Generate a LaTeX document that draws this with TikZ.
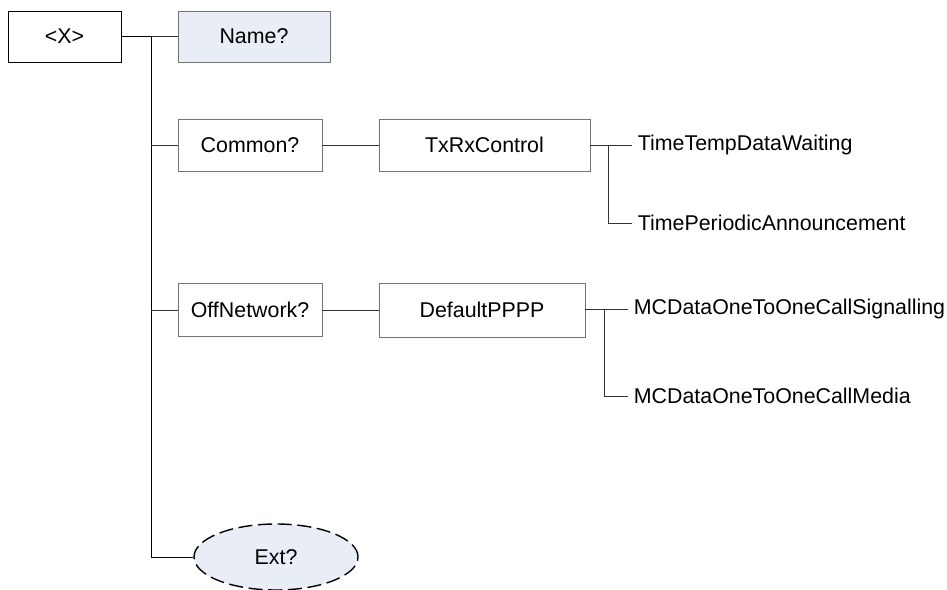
\documentclass[tikz,border=0pt]{standalone}
\usepackage{fontspec}
\setmainfont{Liberation Sans}
\usetikzlibrary{shapes.geometric}
\definecolor{optfill}{HTML}{E9EDF5}
\tikzset{every node/.style={font=\fontsize{15.2}{18}\selectfont},
 box/.style={draw=black!55,minimum height=1.3cm,inner sep=0pt},
 rootbox/.style={draw=black,minimum height=1.28cm,minimum width=2.83cm},
 leaf/.style={anchor=west,inner xsep=0.14cm,inner ysep=0pt},
 opt/.style={fill=optfill},
 link/.style={draw=black!80},
 }

\begin{document}
\begin{tikzpicture}[x=0.025cm,y=-0.025cm]
        \useasboundingbox (0,0) rectangle (947,590);
        \node[rootbox] (x) at (64.5,36.5) {<X>};
        \node[box,opt,minimum width=3.8cm,minimum height=1.28cm] (name) at (254,36.5) {Name?};
        \node[box,minimum width=3.6cm] (common) at (250,145) {Common?};
        \node[box,minimum width=5.28cm] (txrx) at (484.5,145) {TxRxControl};
        \node[leaf] (waiting) at (632,145) {TimeTempDataWaiting};
        \node[leaf] (announce) at (632,223) {TimePeriodicAnnouncement};
        \node[box,minimum width=3.6cm,minimum height=1.33cm] (offnet) at (250,310) {OffNetwork?};
        \node[box,minimum width=5.15cm,minimum height=1.35cm] (pppp) at (482,310) {DefaultPPPP};
        \node[leaf] (signal) at (628,309) {MCDataOneToOneCallSignalling};
        \node[leaf] (media) at (628,396) {MCDataOneToOneCallMedia};
        \node[ellipse,draw,opt,line width=1pt,dash pattern=on 10pt off 4pt,minimum width=4.1cm,minimum height=1.65cm] (ext) at (276,557) {Ext?};
        \coordinate (trunk) at (151,36.5);
        \coordinate (tsplit) at (608,145);
        \coordinate (psplit) at (604,309);
        \draw[black] (x.east) -- (trunk);
        \draw[link] (trunk) -- (name.west);
        \draw[black] (trunk) |- (ext.west);
        \draw[link] (trunk |- common.west) -- (common.west);
        \draw[link] (trunk |- offnet.west) -- (offnet.west);
        \draw[link] (common) -- (txrx);
        \draw[link] (offnet) -- (pppp);
        \draw[link] (txrx.east) -- (waiting.west);
        \draw[link] (tsplit) |- (announce.west);
        \draw[link] (pppp.east |- signal.west) -- (signal.west);
        \draw[link] (psplit) |- (media.west);
    \end{tikzpicture}
\end{document}
